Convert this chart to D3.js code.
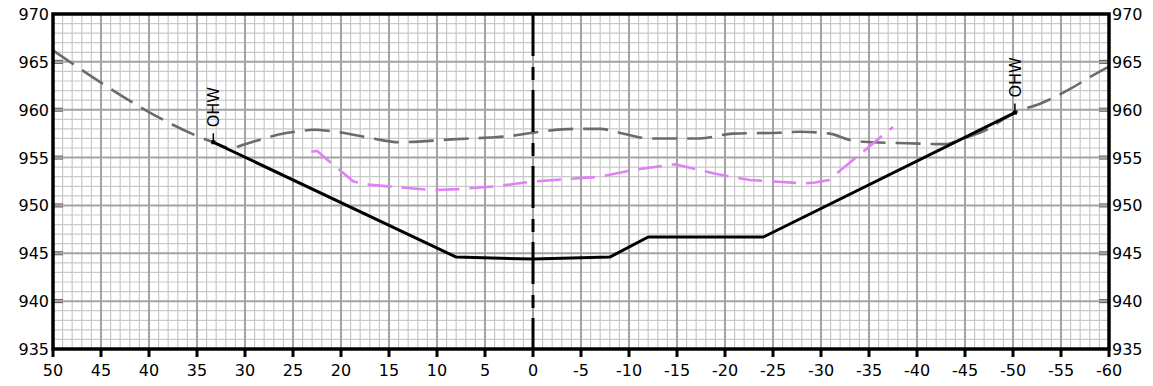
<!DOCTYPE html>
<html>
<head>
<meta charset="utf-8">
<script src="https://cdn.jsdelivr.net/npm/d3@7"></script>
<style>
    body { margin: 0; background: #fff; }
    svg text { font-family: "DejaVu Sans", Verdana, sans-serif; }
</style>
</head>
<body>
<div id="chart"></div>
<script>
// Channel cross section

const xTicks = [50, 45, 40, 35, 30, 25, 20, 15, 10, 5, 0, -5, -10, -15, -20, -25, -30, -35, -40, -45, -50, -55, -60];
const yTicks = [935, 940, 945, 950, 955, 960, 965, 970];

// existing ground (solid)
const groundX = [33.3, 8, 0, -8, -12, -24, -50.2];
const groundY = [956.6, 944.6, 944.4, 944.6, 946.7, 946.7, 959.7];

// gray dashed profile
const grayX = [50, 33.3, 31.5, 30, 28, 26.5, 24, 23, 20.5, 16.7, 14, 8.5, 4.5, 2.4, 0, -4.4, -7, -9, -12.2, -17.4, -20.8, -25.7, -27.8, -30.9, -33, -35.4, -39, -43, -44.5, -47, -50.2, -53, -56, -58, -60];
const grayY = [966.2, 956.6, 956.0, 956.4, 957.0, 957.4, 957.8, 957.9, 957.7, 957.0, 956.6, 956.9, 957.1, 957.25, 957.6, 958.0, 958.0, 957.6, 957.0, 957.0, 957.5, 957.6, 957.7, 957.5, 956.85, 956.6, 956.5, 956.4, 956.9, 957.8, 959.7, 960.7, 962.2, 963.4, 964.5];

// magenta dashed profile
const magX = [23.1, 22.5, 21.7, 18.7, 17.5, 14, 10.4, 7.8, 3.8, 0, -7, -10.4, -14.8, -17.4, -19, -22.6, -25.9, -28.3, -29.4, -30.8, -37.5];
const magY = [955.6, 955.7, 955.0, 952.5, 952.2, 951.9, 951.6, 951.7, 952.0, 952.5, 953.0, 953.7, 954.3, 953.7, 953.3, 952.65, 952.45, 952.3, 952.4, 952.65, 958.2];

// OHW markers
const ohwX = [33.3, -50.2];
const ohwY = [956.6, 959.7];
const ohwLabel = 'OHW';

function drawChart() {
    const container = d3.select('#chart');
    container.html('');

    const margin = { top: 14, right: 44, bottom: 37, left: 53 };
    const width = 1153 - margin.left - margin.right;
    const height = 386 - margin.top - margin.bottom;

    const svg = container.append('svg')
        .attr('width', 1153)
        .attr('height', 386)
        .append('g')
        .attr('transform', `translate(${margin.left},${margin.top})`);

    const x = d3.scaleLinear().domain([50, -60]).range([0, width]);
    const y = d3.scaleLinear().domain([935, 970]).range([height, 0]);

    // Grid - minor every 1 unit, major every 5
    const xMinor = d3.range(-60, 51).filter(v => v % 5 !== 0);
    const yMinor = d3.range(935, 971).filter(v => v % 5 !== 0);

    const grid = svg.append('g');
    grid.selectAll('.vminor')
        .data(xMinor)
        .enter().append('line')
        .attr('x1', d => x(d)).attr('x2', d => x(d))
        .attr('y1', 0).attr('y2', height)
        .attr('stroke', '#c9c9c9').attr('stroke-width', 1.2);
    grid.selectAll('.hminor')
        .data(yMinor)
        .enter().append('line')
        .attr('x1', 0).attr('x2', width)
        .attr('y1', d => y(d)).attr('y2', d => y(d))
        .attr('stroke', '#c9c9c9').attr('stroke-width', 1.2);
    grid.selectAll('.vmajor')
        .data(xTicks)
        .enter().append('line')
        .attr('x1', d => x(d)).attr('x2', d => x(d))
        .attr('y1', 0).attr('y2', height)
        .attr('stroke', '#a3a3a3').attr('stroke-width', 2);
    grid.selectAll('.hmajor')
        .data(yTicks)
        .enter().append('line')
        .attr('x1', 0).attr('x2', width)
        .attr('y1', d => y(d)).attr('y2', d => y(d))
        .attr('stroke', '#a3a3a3').attr('stroke-width', 2);

    // Y tick marks (inside, both sides)
    const yt = svg.append('g');
    [-1.5, 1.5].forEach(off => {
        yt.selectAll(null)
            .data(yTicks.slice(1, -1))
            .enter().append('line')
            .attr('x1', 0).attr('x2', 10)
            .attr('y1', d => y(d) + off).attr('y2', d => y(d) + off)
            .attr('stroke', '#555').attr('stroke-width', 1);
        yt.selectAll(null)
            .data(yTicks.slice(1, -1))
            .enter().append('line')
            .attr('x1', width - 10).attr('x2', width)
            .attr('y1', d => y(d) + off).attr('y2', d => y(d) + off)
            .attr('stroke', '#555').attr('stroke-width', 1);
    });

    const line = d3.line().x(d => x(d[0])).y(d => y(d[1]));
    const smooth = d3.line().x(d => x(d[0])).y(d => y(d[1])).curve(d3.curveMonotoneX);

    // Gray dashed
    svg.append('path')
        .datum(grayX.map((v, i) => [v, grayY[i]]))
        .attr('fill', 'none')
        .attr('stroke', '#6b6b6b')
        .attr('stroke-width', 2.6)
        .attr('stroke-dasharray', '25,10')
        .attr('d', smooth);

    // Magenta dashed
    svg.append('path')
        .datum(magX.map((v, i) => [v, magY[i]]))
        .attr('fill', 'none')
        .attr('stroke', '#e17ff6')
        .attr('stroke-width', 2.6)
        .attr('stroke-dasharray', '24,10')
        .attr('d', line);

    // Ground
    svg.append('path')
        .datum(groundX.map((v, i) => [v, groundY[i]]))
        .attr('fill', 'none')
        .attr('stroke', '#000')
        .attr('stroke-width', 3)
        .attr('stroke-linejoin', 'round')
        .attr('d', line);

    // Centerline
    svg.append('line')
        .attr('x1', x(0)).attr('x2', x(0))
        .attr('y1', 0).attr('y2', height)
        .attr('stroke', '#000')
        .attr('stroke-width', 3)
        .attr('stroke-dasharray', '42,11,13,10');

    // OHW markers
    const ohw = svg.selectAll('.ohw')
        .data(ohwX.map((v, i) => [v, ohwY[i]]))
        .enter().append('g')
        .attr('transform', d => `translate(${x(d[0])},${y(d[1])})`);
    ohw.append('line')
        .attr('x1', 0).attr('x2', 0)
        .attr('y1', 0).attr('y2', -9)
        .attr('stroke', '#000').attr('stroke-width', 1.5);
    ohw.append('rect')
        .attr('x', -2).attr('y', -2)
        .attr('width', 4).attr('height', 4)
        .attr('fill', '#000');
    ohw.append('text')
        .attr('transform', 'translate(6,-15) rotate(-90)')
        .attr('font-size', '16px')
        .attr('fill', '#000')
        .text(ohwLabel);

    // Frame
    svg.append('rect')
        .attr('x', 0).attr('y', 0)
        .attr('width', width).attr('height', height)
        .attr('fill', 'none')
        .attr('stroke', '#000')
        .attr('stroke-width', 3.5);

    // X ticks and labels
    svg.selectAll('.xtick')
        .data(xTicks)
        .enter().append('line')
        .attr('x1', d => x(d)).attr('x2', d => x(d))
        .attr('y1', height).attr('y2', height + 8)
        .attr('stroke', '#000').attr('stroke-width', 3);
    svg.selectAll('.xlabel')
        .data(xTicks)
        .enter().append('text')
        .attr('x', d => x(d))
        .attr('y', height + 27)
        .attr('text-anchor', 'middle')
        .attr('font-size', '16px')
        .attr('fill', '#000')
        .text(d => d);

    // Y labels both sides
    svg.selectAll('.ylabelL')
        .data(yTicks)
        .enter().append('text')
        .attr('x', -4)
        .attr('y', d => y(d) + 6)
        .attr('text-anchor', 'end')
        .attr('font-size', '16px')
        .attr('fill', '#000')
        .text(d => d);
    svg.selectAll('.ylabelR')
        .data(yTicks)
        .enter().append('text')
        .attr('x', width + 3)
        .attr('y', d => y(d) + 6)
        .attr('text-anchor', 'start')
        .attr('font-size', '16px')
        .attr('fill', '#000')
        .text(d => d);
}

drawChart();
</script>
</body>
</html>
